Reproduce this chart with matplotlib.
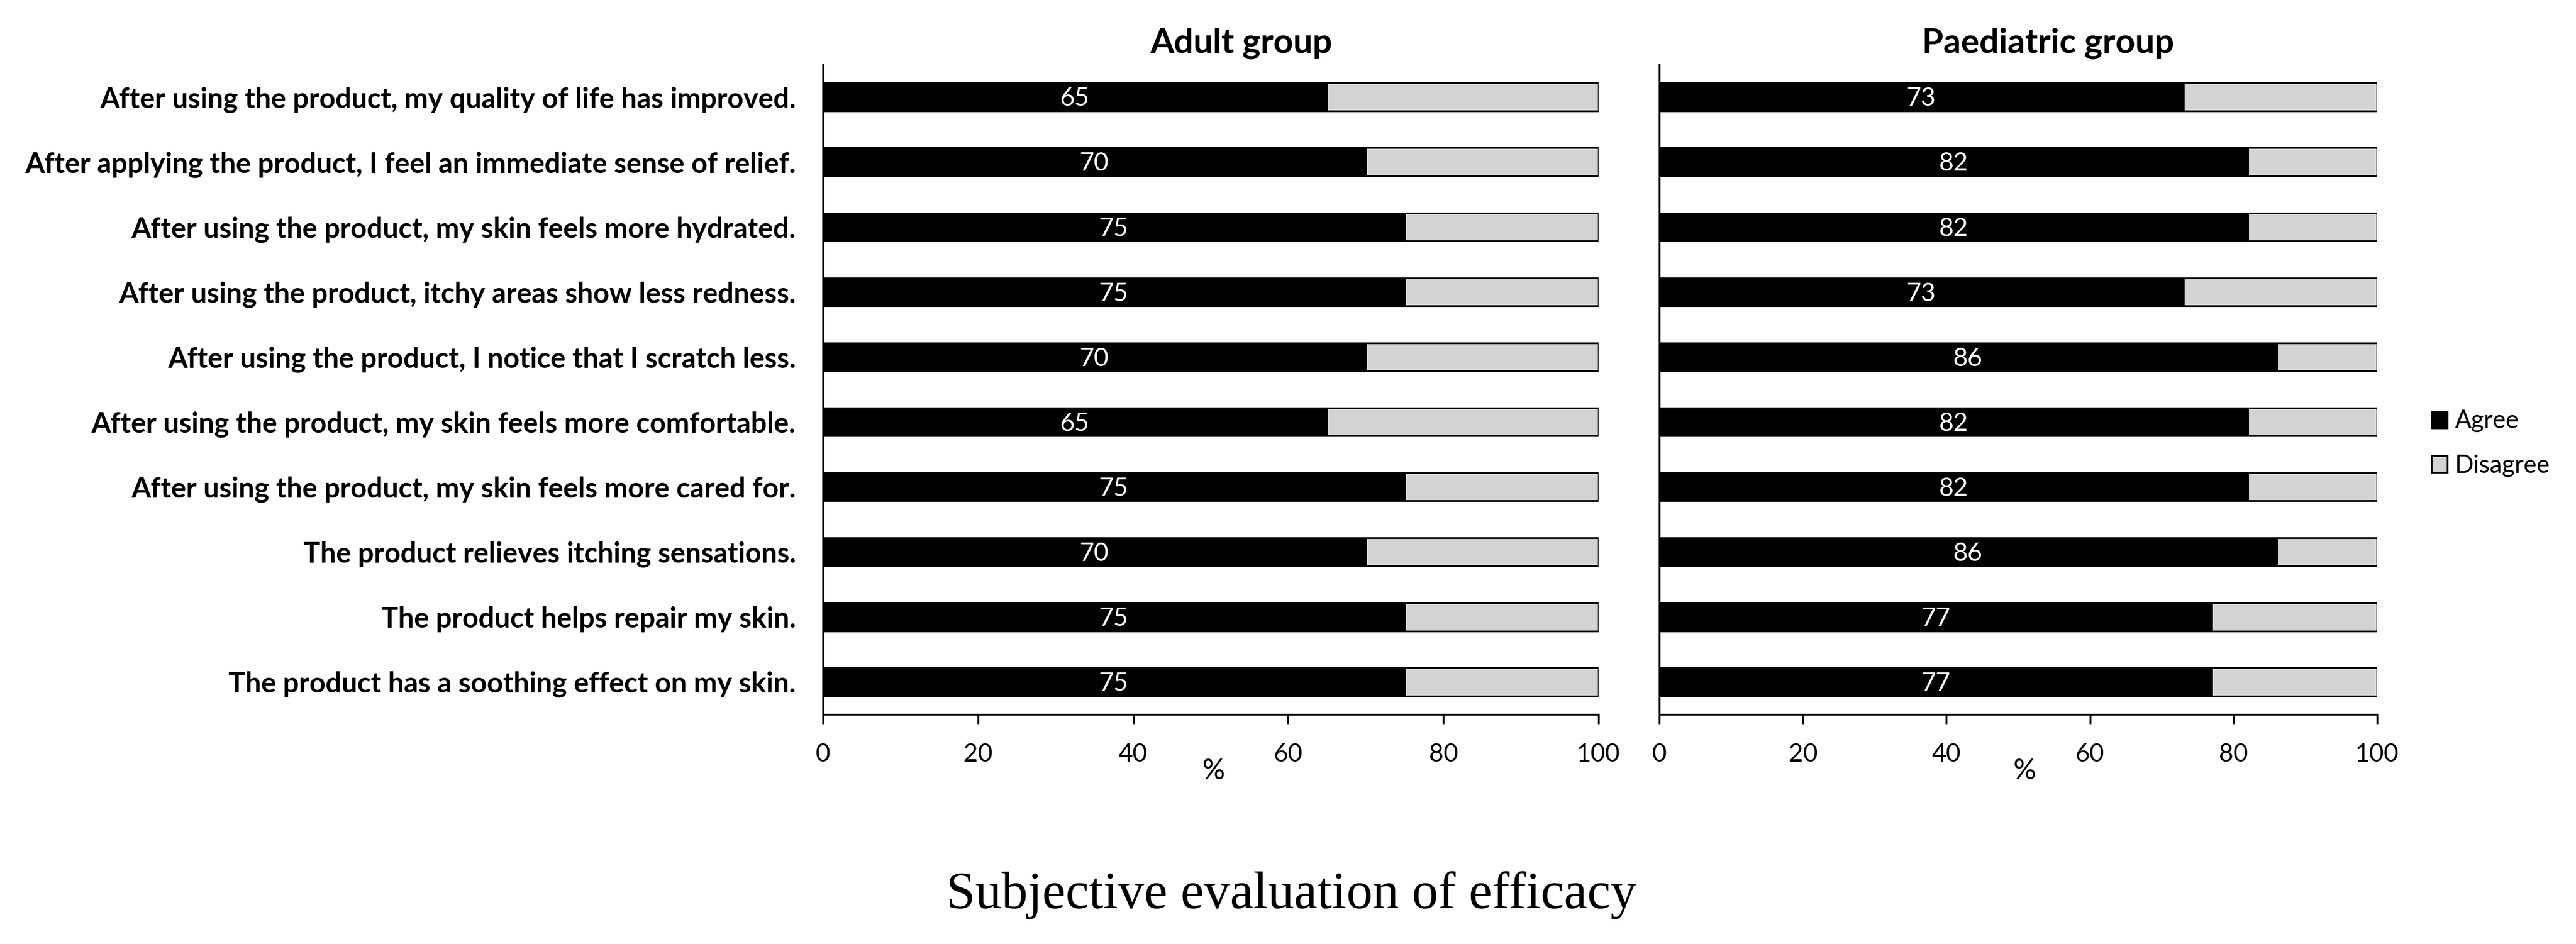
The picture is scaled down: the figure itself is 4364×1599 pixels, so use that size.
import matplotlib.pyplot as plt
from matplotlib.patches import Patch

statements = [
    'After using the product, my quality of life has improved.',
    'After applying the product, I feel an immediate sense of relief.',
    'After using the product, my skin feels more hydrated.',
    'After using the product, itchy areas show less redness.',
    'After using the product, I notice that I scratch less.',
    'After using the product, my skin feels more comfortable.',
    'After using the product, my skin feels more cared for.',
    'The product relieves itching sensations.',
    'The product helps repair my skin.',
    'The product has a soothing effect on my skin.',
]
adult_agree = [65, 70, 75, 75, 70, 65, 75, 70, 75, 75]
paed_agree = [73, 82, 82, 73, 86, 82, 82, 86, 77, 77]
group_titles = ['Adult group', 'Paediatric group']
x_ticks = [0, 20, 40, 60, 80, 100]

plt.rcParams['font.family'] = ['Lato', 'DejaVu Sans']

W, H = 4364, 1599
fig = plt.figure(figsize=(W / 300, H / 300), dpi=300)

black = '#000000'
grey = '#D3D3D3'

ax_adult = fig.add_axes([1394 / W, 1 - 1210 / H, (2708 - 1394) / W, (1210 - 109) / H])
ax_paed = fig.add_axes([2811 / W, 1 - 1210 / H, (4027 - 2811) / W, (1210 - 109) / H])

for ax, agree, pct_x in [(ax_adult, adult_agree, 0.504), (ax_paed, paed_agree, 0.509)]:
    ypos = list(range(len(statements)))
    disagree = [100 - a for a in agree]
    ax.barh(ypos, agree, height=0.43, color=black, edgecolor=black, linewidth=0.7)
    ax.barh(ypos, disagree, left=agree, height=0.43, color=grey, edgecolor=black, linewidth=0.7)
    for y, a in zip(ypos, agree):
        ax.text(a / 2, y + 0.03, str(a), color='white', ha='center', va='center', fontsize=10.3)
    ax.set_xlim(0, 100)
    ax.set_ylim(len(statements) - 0.5, -0.5)
    ax.set_xticks(x_ticks)
    ax.tick_params(axis='x', length=3.8, width=0.75, labelsize=10.2, pad=8)
    ax.tick_params(axis='y', length=0)
    for s in ['top', 'right']:
        ax.spines[s].set_visible(False)
    for s in ['left', 'bottom']:
        ax.spines[s].set_linewidth(0.75)
    ax.text(pct_x, -0.087, '%', transform=ax.transAxes, ha='center', va='center', fontsize=11.5)

ax_adult.set_yticks(range(len(statements)))
ax_adult.set_yticklabels(statements, fontsize=11.45, fontweight='bold')
ax_adult.tick_params(axis='y', pad=11)
ax_paed.set_yticks([])

fig.text(2103 / W, 1 - 73 / H, group_titles[0], ha='center', va='center', fontsize=14, fontweight='bold')
fig.text(3470 / W, 1 - 73 / H, group_titles[1], ha='center', va='center', fontsize=14, fontweight='bold')

handles = [Patch(facecolor=black, edgecolor=black, linewidth=0.7),
           Patch(facecolor=grey, edgecolor=black, linewidth=0.7)]
fig.legend(handles, ['Agree', 'Disagree'], loc='center left', bbox_to_anchor=(4098 / W, 1 - 751 / H),
           frameon=False, fontsize=10, handlelength=0.65, handleheight=0.65,
           handletextpad=0.3, labelspacing=0.9, borderpad=0)

fig.text(2188 / W, 1 - 1538 / H, 'Subjective evaluation of efficacy', ha='center', va='baseline',
         fontsize=21.3, family='Liberation Serif')

fig.savefig('out.png', dpi=300)
